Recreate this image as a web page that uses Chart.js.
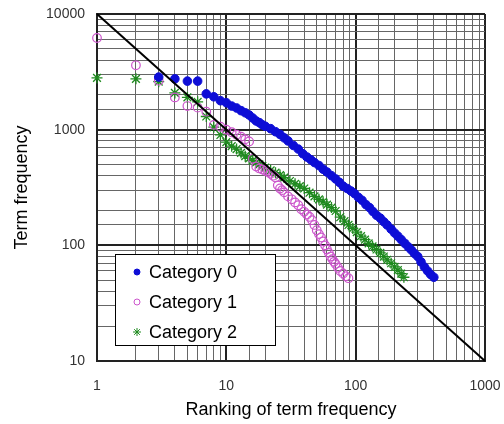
<!DOCTYPE html>
<html>
<head>
<meta charset="utf-8">
<script src="https://cdn.jsdelivr.net/npm/chart.js@4"></script>
<style>
  html, body { margin: 0; padding: 0; background: #fff; }
</style>
</head>
<body>
<canvas id="zipfGraph" width="504" height="424"></canvas>
<script>
// data block
const seriesNames = ["Category 0", "Category 1", "Category 2"];

const cat0Rank = [3, 4, 5, 6, 7, 8, 9, 10, 11, 12, 13, 14, 15, 16, 17, 18, 19, 20, 22, 24, 26, 28, 30, 33, 36, 39, 42, 45, 48, 52, 56, 60, 65, 70, 75, 80, 86, 92, 98, 105, 112, 120, 128, 136, 145, 155, 165, 175, 188, 200, 212, 225, 240, 255, 270, 285, 302, 320, 340, 360, 380, 402];
const cat0Freq = [2850, 2750, 2630, 2630, 2040, 1925, 1780, 1710, 1600, 1540, 1460, 1400, 1340, 1260, 1190, 1150, 1100, 1070, 1020, 960, 910, 850, 800, 730, 680, 620, 580, 550, 520, 490, 455, 430, 400, 375, 350, 325, 310, 295, 280, 260, 245, 225, 212, 196, 182, 172, 160, 150, 138, 128, 120, 112, 104, 97, 91, 85, 80, 72, 65, 60, 56, 53];

const cat1Rank = [1, 2, 3, 4, 5, 6, 7, 8, 9, 10, 11, 12, 13, 14, 15, 16, 17, 18, 19, 20, 21, 22, 23, 24, 25, 26, 27, 28, 30, 32, 34, 36, 38, 40, 42, 44, 46, 48, 50, 52, 54, 56, 58, 60, 62, 64, 66, 68, 70, 73, 76, 80, 84, 88];
const cat1Freq = [6200, 3600, 2650, 1900, 1600, 1550, 1430, 1100, 1060, 1000, 950, 905, 870, 825, 790, 560, 480, 462, 452, 440, 430, 415, 400, 385, 330, 310, 300, 287, 265, 250, 235, 222, 205, 195, 185, 176, 165, 150, 135, 125, 117, 108, 100, 92, 86, 80, 76, 72, 69, 64, 60, 57, 54, 52];

const cat2Rank = [1, 2, 3, 4, 5, 6, 7, 8, 9, 10, 11, 12, 13, 14, 15, 16, 17, 18, 19, 20, 22, 24, 26, 28, 31, 34, 37, 40, 44, 48, 52, 56, 60, 65, 70, 76, 82, 88, 95, 102, 110, 118, 126, 135, 145, 155, 165, 175, 188, 200, 212, 225, 236];
const cat2Freq = [2800, 2750, 2600, 2080, 1900, 1740, 1300, 1050, 900, 780, 720, 680, 630, 590, 565, 540, 520, 500, 485, 470, 445, 425, 405, 385, 360, 340, 325, 310, 285, 265, 250, 238, 225, 212, 198, 175, 162, 150, 140, 130, 120, 112, 104, 98, 92, 86, 80, 75, 70, 65, 61, 57, 53];

// reference Zipf line
const zipfRank = [1, 1000];
const zipfFreq = [10000, 10];

const xTickLabels = [1, 10, 100, 1000];
const yTickLabels = [10, 100, 1000, 10000];

const fontFamily = "Arial, 'Liberation Sans', sans-serif";

function toPoints(xs, ys) {
  return xs.map(function (x, i) {
    return { x: x, y: ys[i] };
  });
}

function isDecade(v) {
  const l = Math.log10(v);
  return Math.abs(l - Math.round(l)) < 1e-9;
}

// setup block
const data = {
  datasets: [
    {
      label: "Zipf",
      data: toPoints(zipfRank, zipfFreq),
      showLine: true,
      borderColor: "#000",
      borderWidth: 2,
      pointRadius: 0,
      order: 0,
      clip: false,
    },
    {
      label: seriesNames[0],
      data: toPoints(cat0Rank, cat0Freq),
      pointStyle: "circle",
      pointRadius: 4.3,
      backgroundColor: "#0d0dd6",
      borderColor: "#0d0dd6",
      borderWidth: 1,
      order: 1,
      clip: false,
    },
    {
      label: seriesNames[1],
      data: toPoints(cat1Rank, cat1Freq),
      pointStyle: "circle",
      pointRadius: 4.3,
      backgroundColor: "rgba(255,255,255,0)",
      borderColor: "#cc55cc",
      borderWidth: 1.2,
      order: 2,
      clip: false,
    },
    {
      label: seriesNames[2],
      data: toPoints(cat2Rank, cat2Freq),
      pointStyle: "star",
      pointRadius: 5.5,
      backgroundColor: "#1f8a1f",
      borderColor: "#1f8a1f",
      borderWidth: 1.3,
      order: 3,
      clip: false,
    },
  ],
};

// legend drawn inside the plot area, lower left
const insideLegend = {
  id: "insideLegend",
  afterDraw(chart) {
    const ctx = chart.ctx;
    const area = chart.chartArea;
    const left = area.left + 18;
    const top = area.top + 240;
    const w = 160;
    const h = 91;
    ctx.save();
    ctx.fillStyle = "#fff";
    ctx.fillRect(left, top, w, h);
    ctx.strokeStyle = "#000";
    ctx.lineWidth = 1;
    ctx.strokeRect(left + 0.5, top + 0.5, w, h);
    ctx.font = "18px " + fontFamily;
    ctx.textBaseline = "middle";
    chart.data.datasets.slice(1).forEach(function (ds, i) {
      const cy = top + 18 + i * 30;
      ctx.fillStyle = ds.backgroundColor;
      ctx.strokeStyle = ds.borderColor;
      ctx.lineWidth = 1;
      Chart.helpers.drawPoint(ctx, {
        pointStyle: ds.pointStyle,
        radius: ds.pointStyle === "star" ? 4 : 3,
        borderWidth: 1,
      }, left + 22, cy);
      ctx.fillStyle = "#000";
      ctx.fillText(ds.label, left + 34, cy + 1);
    });
    ctx.restore();
  },
};

// config block
const config = {
  type: "scatter",
  data,
  options: {
    responsive: false,
    animation: false,
    devicePixelRatio: 1,
    layout: { padding: { left: 0, right: 19, top: 14, bottom: 0 } },
    plugins: {
      legend: { display: false },
      tooltip: { enabled: false },
    },
    scales: {
      x: {
        type: "logarithmic",
        position: "bottom",
        min: 1,
        max: 1000,
        afterFit: function (s) { s.height = 63; },
        border: { color: "#222", width: 2 },
        grid: {
          drawTicks: true,
          tickLength: 17,
          tickColor: "rgba(0,0,0,0)",
          color: (c) => (c.tick && isDecade(c.tick.value) ? "#222" : "#666"),
          lineWidth: (c) => (c.tick && isDecade(c.tick.value) ? 2 : 1),
        },
        ticks: {
          autoSkip: false,
          maxRotation: 0,
          padding: 0,
          color: "#333",
          font: { size: 14, family: fontFamily },
          callback: (v) => (xTickLabels.includes(v) ? String(v) : ""),
        },
        title: {
          display: true,
          text: "Ranking of term frequency",
          color: "#000",
          font: { size: 18, family: fontFamily },
          padding: { top: 0, bottom: 3 },
        },
      },
      y: {
        type: "logarithmic",
        min: 10,
        max: 10000,
        afterFit: function (s) { s.width = 97; },
        border: { color: "#222", width: 2 },
        grid: {
          drawTicks: true,
          tickLength: 12,
          tickColor: "rgba(0,0,0,0)",
          color: (c) => (c.tick && isDecade(c.tick.value) ? "#222" : "#666"),
          lineWidth: (c) => (c.tick && isDecade(c.tick.value) ? 2 : 1),
        },
        ticks: {
          autoSkip: false,
          padding: 0,
          color: "#333",
          font: { size: 14, family: fontFamily },
          callback: (v) => (yTickLabels.includes(v) ? String(v) : ""),
        },
        title: {
          display: true,
          text: "Term frequency",
          color: "#000",
          font: { size: 18, family: fontFamily },
          padding: { top: 11, bottom: 0 },
        },
      },
    },
  },
  plugins: [insideLegend],
};

// render / init block
const myChart = new Chart(document.getElementById("zipfGraph"), config);
</script>
</body>
</html>
